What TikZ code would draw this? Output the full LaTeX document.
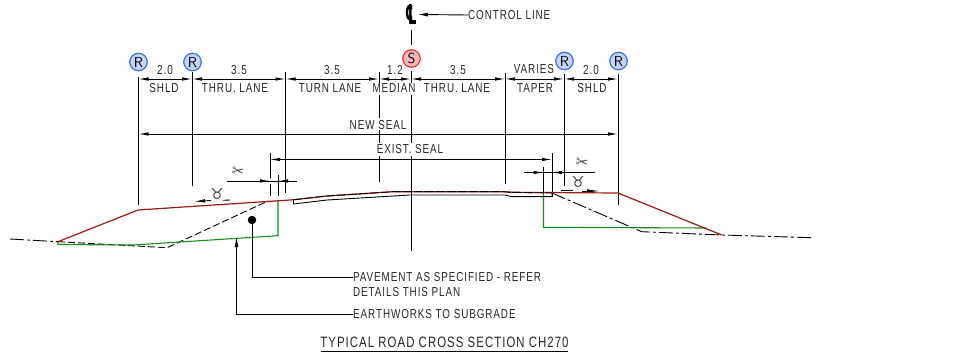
\documentclass[tikz,border=0pt]{standalone}
\usepackage{fontspec}
\usetikzlibrary{calc,arrows.meta}
\setmainfont{Liberation Sans}
\newfontfamily\cadfont[FakeStretch=0.76,LetterSpace=7]{Liberation Sans}
\newfontfamily\symfont{DejaVu Sans}
\definecolor{roadred}{HTML}{A01818}
\definecolor{roadgreen}{HTML}{1E8A1E}
\definecolor{rblue}{HTML}{C3D4F7}
\definecolor{rborder}{HTML}{3B6FE8}
\definecolor{sred}{HTML}{F9B9B9}
\definecolor{sborder}{HTML}{F03030}
\tikzset{
  cadtext/.style={inner sep=0pt,font=\cadfont\fontsize{13}{13}\selectfont,text=black!85},
  dimline/.style={line width=.9pt,black,{Latex[length=10pt,width=3.5pt]}-{Latex[length=10pt,width=3.5pt]}},
  leader/.style={line width=.9pt,black},
  pointer/.style={line width=.9pt,black,-{Latex[length=10pt,width=4pt]}},
  tagcircle/.style={circle,draw,line width=1.2pt,minimum size=17.5pt,inner sep=0pt,font=\fontsize{14.5}{14.5}\selectfont},
  rtag/.style={tagcircle,draw=rborder,fill=rblue},
  stag/.style={tagcircle,draw=sborder,fill=sred},
  natural/.style={line width=.9pt,black,dash pattern=on 14pt off 3pt on 3pt off 3pt},
  existing/.style={line width=.9pt,black,dash pattern=on 7pt off 3pt}
}
\begin{document}
\begin{tikzpicture}[x=1pt,y=-1pt]
  \useasboundingbox (0,0) rectangle (963,358);

  % setting out points along the dimension line
  \foreach \x/\i in {138.5/a,192/b,285.5/c,379/d,411/e,505/f,564/g,618/h} {
    \coordinate (top\i) at (\x,79);
  }
  \foreach \x/\y/\i in {138.5/62/a,192.5/62/b,564.5/61/g,618.5/61/h} {
    \node[rtag] (tag\i) at (\x,\y) {\sffamily R};
  }
  \node[stag] (tage) at (411.5,58.5) {\sffamily S};

  % extension lines
  \draw[leader] (138.5,77) -- (138.5,205);
  \draw[leader] (192,72) -- (192,186);
  \draw[leader] (285.5,72) -- (285.5,193);
  \draw[leader] (379,72) -- (379,83) (379,95) -- (379,118) (379,130) -- (379,143) (379,156) -- (379,182);
  \draw[leader] (411,30) -- (411,45) (411,71) -- (411,83) (411,95) -- (411,143) (411,156) -- (411,251);
  \draw[leader] (505,73) -- (505,184);
  \draw[leader] (564,74) -- (564,186);
  \draw[leader] (618,74) -- (618,205);

  % top dimensions
  \draw[dimline] (topa) -- (topb);
  \draw[dimline] (topb) -- (topc);
  \draw[dimline] (topc) -- (topd);
  \draw[dimline] (topd) -- (tope);
  \draw[dimline] (tope) -- (topf);
  \draw[dimline] (topf) -- (topg);
  \draw[dimline] (topg) -- (toph);

  \foreach \x/\y/\t/\i in {165/70/2.0/p,239/70/3.5/q,332/70/3.5/r,395/70/1.2/s,458/70/3.5/t,534/69/VARIES/u,591/70/2.0/v,
      164/88/SHLD/k,235/88/THRU. LANE/l,330/88/TURN LANE/m,394/88/MEDIAN/n,457/88/THRU. LANE/o,535/88/TAPER/w,592/88/SHLD/y,
      378/125/NEW SEAL/ns,410/149.5/EXIST. SEAL/es} {
    \node[cadtext] (lab\i) at (\x,\y) {\t};
  }

  % seal widths
  \coordinate (newl) at (138.5,134);
  \coordinate (newr) at (618,134);
  \draw[dimline] (newl) -- (newr);
  \coordinate (exl) at (270,159.5);
  \coordinate (exr) at (552,159.5);
  \draw[dimline] (exl) -- (exr);
  \draw[leader] (270,153) -- (270,178) (270,184) -- (270,196);
  \draw[leader] (278,175) -- (278,196);
  \draw[leader] (552,153) -- (552,197);
  \draw[leader] (543.5,167) -- (543.5,193);

  % width of the seal at each end
  \draw[leader] (227,181) -- (297,181);
  \draw[leader,-{Latex[length=10pt,width=3.5pt]}] (250,181) -- (270,181);
  \draw[leader,-{Latex[length=10pt,width=3.5pt]}] (297,181) -- (278,181);
  \draw[leader] (524,172.5) -- (595,172.5);
  \draw[leader,-{Latex[length=10pt,width=3.5pt]}] (524,172.5) -- (543.5,172.5);
  \draw[leader,-{Latex[length=10pt,width=3.5pt]}] (570,172.5) -- (552,172.5);

  \node[inner sep=0pt,rotate=-8,text=black!70,font=\symfont\fontsize{15}{15}\selectfont] (cutl) at (238,172) {✂};
  \node[inner sep=0pt,rotate=-8,text=black!70,font=\symfont\fontsize{15}{15}\selectfont] (cutr) at (582,163) {✂};
  \node[inner sep=0pt,text=black!75,font=\symfont\fontsize{15}{15}\selectfont] (taul) at (217,194.5) {♉};
  \node[inner sep=0pt,text=black!75,font=\symfont\fontsize{15}{15}\selectfont] (taur) at (578,182) {♉};
  \draw[leader,-{Latex[length=11pt,width=3.5pt]}] (211,200.5) -- (194,201.5);
  \draw[leader] (223,200.3) -- (230,200);
  \draw[leader,-{Latex[length=13pt,width=3.5pt]}] (582,191) -- (600,191);
  \draw[leader] (561,190.5) -- (573,190.5);

  % existing surface
  \draw[natural] (10,239) -- (58,241.7);
  \draw[existing] (58,241.7) -- (167,247.7) -- (268,201);
  \draw[natural] (552,193) -- (641.7,231.7) -- (721.7,235) -- (811.7,237.7);

  % pavement boxes
  \draw[line width=1.1pt,roadgreen] (58,241.7) -- (58,244.5) -- (133,245) -- (278,235.7) -- (278,200.8);
  \draw[line width=1.1pt,roadgreen] (543.5,193) -- (543.5,227.3) -- (706.7,228);

  % existing seal
  \draw[line width=.9pt,black] (293.5,199.8) -- (293.5,204) -- (327,200) -- (410,195) -- (505,195) -- (512,196.7) -- (552,196.7) -- (552,193);

  % finished surface
  \draw[line width=1.2pt,roadred] (58,241.7) -- (138,210) -- (293,199.8) -- (327,196) -- (393,191.7) -- (503,191.7) -- (512,192.3) -- (618,193) -- (721.7,235);
  \draw[line width=.9pt,black,dash pattern=on 9pt off 2pt] (293,199.8) -- (327,196) -- (393,191.7) -- (503,191.7) -- (512,192.3) -- (552,193);

  % control line
  \node[inner sep=0pt,xscale=.55,yscale=1.15,font=\symfont\bfseries\fontsize{24}{24}\selectfont] (clsym) at (411,14) {℄};
  \node[cadtext,anchor=west] (cllab) at (468,15) {CONTROL LINE};
  \draw[pointer] (cllab.west) -- (418,14.5);

  % notes
  \node[circle,fill=black,minimum size=8.5pt,inner sep=0pt] (dot) at (252,220) {};
  \node[cadtext,anchor=west] (pavlab) at (353,277) {PAVEMENT AS SPECIFIED - REFER};
  \node[cadtext,anchor=west] (detlab) at (353,292.5) {DETAILS THIS PLAN};
  \node[cadtext,anchor=west] (earlab) at (353,314.5) {EARTHWORKS TO SUBGRADE};
  \draw[leader] (dot) |- (pavlab.west);
  \coordinate (subgrade) at (236.5,237);
  \draw[pointer] (earlab.west) -| (subgrade);

  \node[cadtext,anchor=base,font=\cadfont\fontsize{15}{15}\selectfont] (title) at (444.5,347) {TYPICAL ROAD CROSS SECTION CH270};
  \coordinate (titlel) at (321,351.5);
  \coordinate (titler) at (568,351.5);
  \draw[leader] (titlel) -- (titler);
\end{tikzpicture}
\end{document}
